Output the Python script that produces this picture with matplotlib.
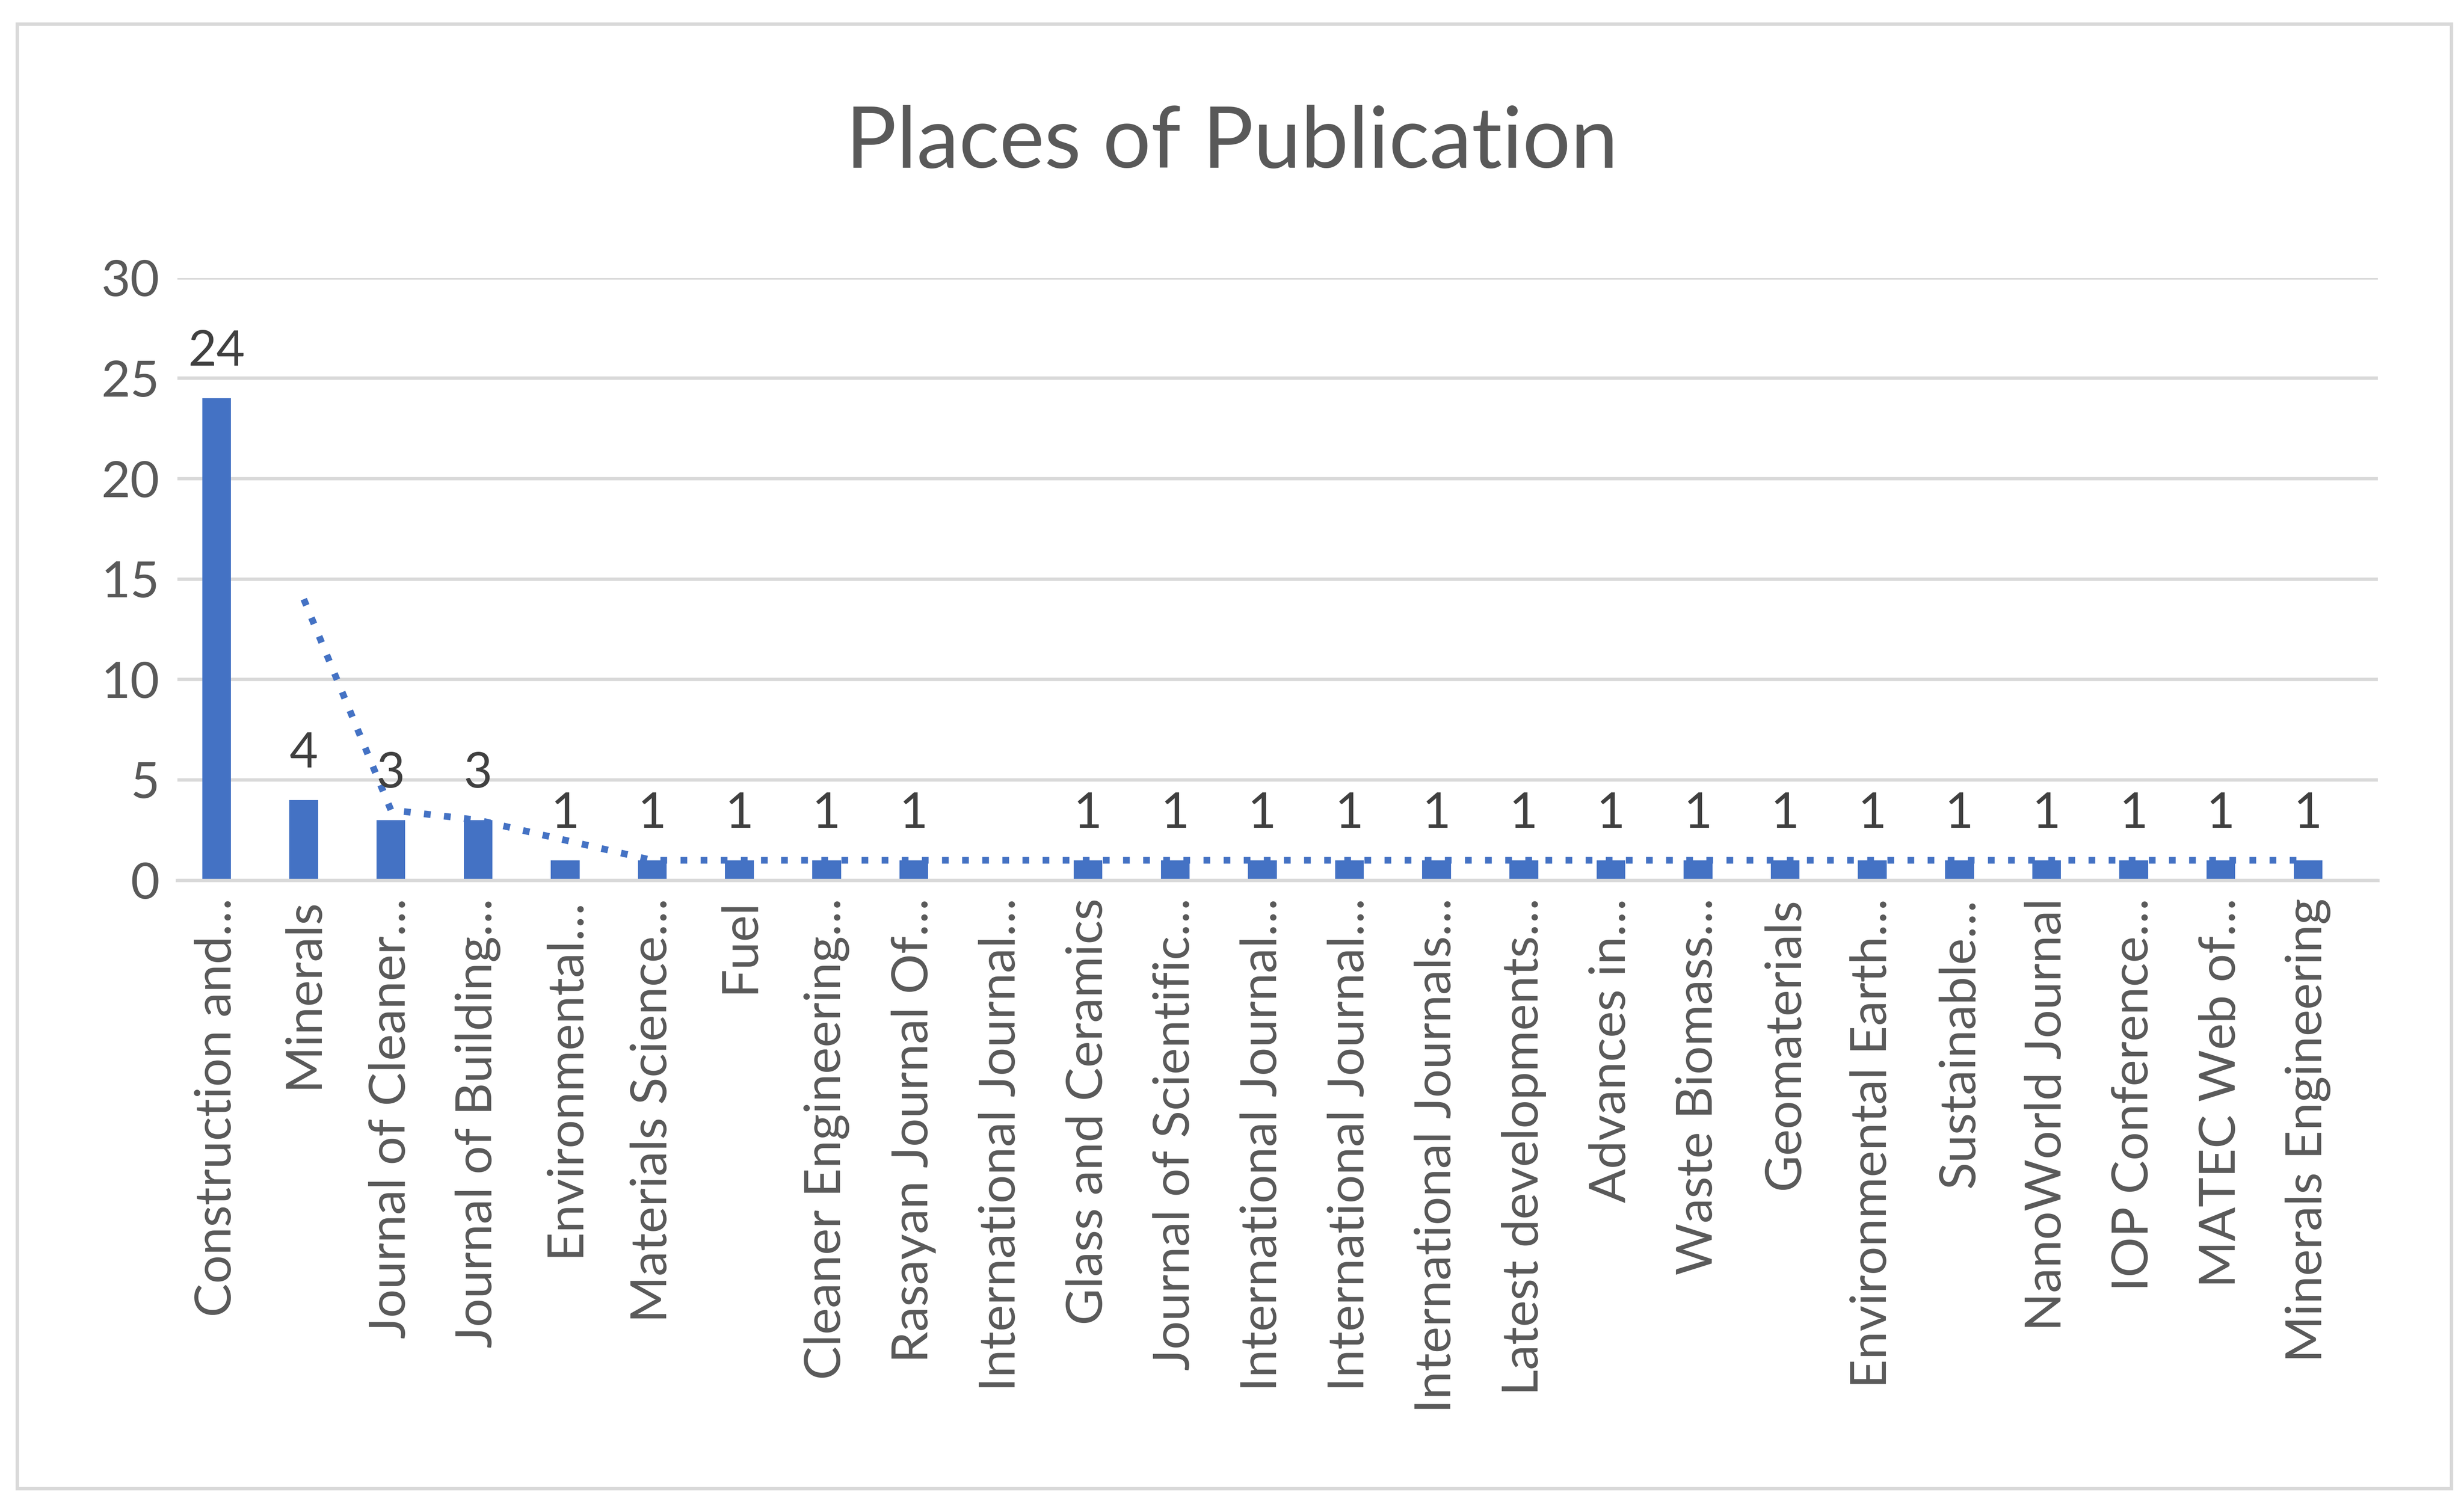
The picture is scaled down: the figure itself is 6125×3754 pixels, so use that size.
import numpy as np
import matplotlib.pyplot as plt
from matplotlib.patches import Rectangle

plt.rcParams['font.family'] = ['Lato', 'DejaVu Sans']

journals = ["Construction and…", "Minerals", "Journal of Cleaner…", "Journal of Building…",
            "Environmental…", "Materials Science…", "Fuel", "Cleaner Engineering…",
            "Rasayan Journal Of…", "International Journal…", "Glass and Ceramics",
            "Journal of Scientific…", "International Journal…", "International Journal…",
            "International Journals…", "Latest developments…", "Advances in…",
            "Waste Biomass…", "Geomaterials", "Environmental Earth…", "Sustainable…",
            "NanoWorld Journal", "IOP Conference…", "MATEC Web of…", "Minerals Engineering"]
counts = [24, 4, 3, 3, 1, 1, 1, 1, 1, np.nan, 1, 1, 1, 1, 1, 1, 1, 1, 1, 1, 1, 1, 1, 1, 1]

counts = np.array(counts, dtype=float)
x = np.arange(len(journals))

# 2-period moving average trendline (gaps skipped)
trend = [np.nan] + [np.nanmean(counts[i - 1:i + 1]) for i in range(1, len(counts))]

blue = "#4472C4"
grey = "#595959"

fig = plt.figure(figsize=(15.3125, 9.385), dpi=400)
fig.patches.append(Rectangle((0.007, 0.014), 0.988, 0.97, transform=fig.transFigure,
                             fill=False, edgecolor="#D9D9D9", linewidth=1.5))
ax = fig.add_axes([0.072, 0.417, 0.893, 0.399])

ax.bar(x, np.nan_to_num(counts), width=0.33, color=blue, zorder=2)
ax.plot(x, trend, linestyle=(0, (1, 2)), color=blue, linewidth=3, zorder=3)
for xi, v in zip(x, counts):
    if not np.isnan(v):
        ax.text(xi, v + 1.2, f"{int(v)}", ha="center", va="bottom", fontsize=22, color="#404040")

ax.set_xlim(-0.45, len(journals) - 0.2)
ax.set_ylim(0, 30)
ax.set_yticks(range(0, 31, 5))
ax.yaxis.grid(True, color="#D9D9D9", linewidth=1.5, zorder=0)
ax.set_axisbelow(True)
for s in ["top", "right", "left"]:
    ax.spines[s].set_visible(False)
ax.spines["bottom"].set_color("#D9D9D9")
ax.spines["bottom"].set_linewidth(1.5)
ax.tick_params(axis="both", length=0, labelsize=22.5, labelcolor=grey, pad=8)
ax.set_xticks(x)
ax.set_xticklabels(journals, rotation=90)
fig.text(0.5, 0.905, "Places of Publication", ha="center", va="center", fontsize=38, color=grey)

fig.savefig("out.png", dpi=400)
